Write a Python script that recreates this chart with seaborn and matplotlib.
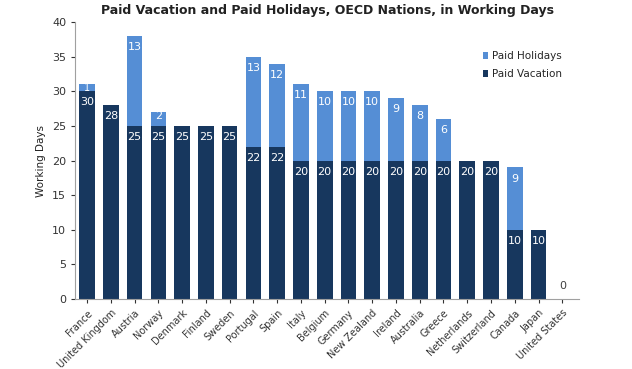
import numpy as np
import pandas as pd
import matplotlib
matplotlib.use("Agg")
import matplotlib.pyplot as plt
import seaborn as sns

# Data 

countries = ["France", "United Kingdom", "Austria", "Norway", "Denmark", "Finland",
             "Sweden", "Portugal", "Spain", "Italy", "Belgium", "Germany",
             "New Zealand", "Ireland", "Australia", "Greece", "Netherlands",
             "Switzerland", "Canada", "Japan", "United States"]
vacation = [30, 28, 25, 25, 25, 25, 25, 22, 22, 20, 20, 20, 20, 20, 20, 20, 20, 20, 10, 10, 0]
holidays = [1, 0, 13, 2, 0, 0, 0, 13, 12, 11, 10, 10, 10, 9, 8, 6, 0, 0, 9, 0, 0]

df = pd.DataFrame({"country": countries, "vacation": vacation, "holidays": holidays})
df["total"] = df["vacation"] + df["holidays"]

DARK = "#17375E"
LIGHT = "#558ED5"

sns.set_style("white")
plt.rcParams["font.family"] = ["DejaVu Sans"]

fig = plt.figure(figsize=(6.32, 3.69), dpi=100)
ax = fig.add_axes([0.119, 0.19, 0.797, 0.75])

# total bar in light blue, vacation drawn over it in dark blue
sns.barplot(data=df, x="country", y="total", color=LIGHT, width=0.66,
            saturation=1, linewidth=0, ax=ax, label="Paid Holidays")
sns.barplot(data=df, x="country", y="vacation", color=DARK, width=0.66,
            saturation=1, linewidth=0, ax=ax, label="Paid Vacation")

# value labels
for i, row in df.iterrows():
    if row["vacation"] > 0:
        ax.text(i, row["vacation"] - 1.6, str(row["vacation"]), ha="center", va="center",
                color="white", fontsize=8, zorder=5)
    else:
        ax.text(i, 1.2, "0", ha="center", va="bottom", color="#404040", fontsize=8)
    if row["holidays"] > 0:
        y = row["total"] - 0.5 if row["holidays"] < 3 else row["total"] - 1.6
        ax.text(i, y, str(row["holidays"]), ha="center", va="center",
                color="white", fontsize=7 if row["holidays"] == 1 else 8, zorder=6)

ax.set_ylim(0, 40)
ax.set_yticks(range(0, 41, 5))
ax.set_xlim(-0.5, 20.7)
ax.set_xlabel("")
ax.set_ylabel("Working Days", fontsize=7.5, color="#222222")
ax.set_title("Paid Vacation and Paid Holidays, OECD Nations, in Working Days",
             fontsize=9, fontweight="bold", color="#222222", pad=6)

ax.tick_params(axis="y", labelsize=8, colors="#333333", length=3, direction="out", left=True)
ax.tick_params(axis="x", labelsize=7, colors="#333333", length=3, direction="out", bottom=True)
plt.setp(ax.get_xticklabels(), rotation=45, ha="right", rotation_mode="anchor")

for s in ["top", "right"]:
    ax.spines[s].set_visible(False)
for s in ["left", "bottom"]:
    ax.spines[s].set_color("#A0A0A0")
    ax.spines[s].set_linewidth(0.8)

leg = ax.legend(loc="upper right", bbox_to_anchor=(0.985, 0.93), frameon=False,
                fontsize=7.5, handlelength=0.5, handleheight=0.7, handletextpad=0.4,
                labelspacing=0.8)

fig.savefig("out.png", dpi=100)
